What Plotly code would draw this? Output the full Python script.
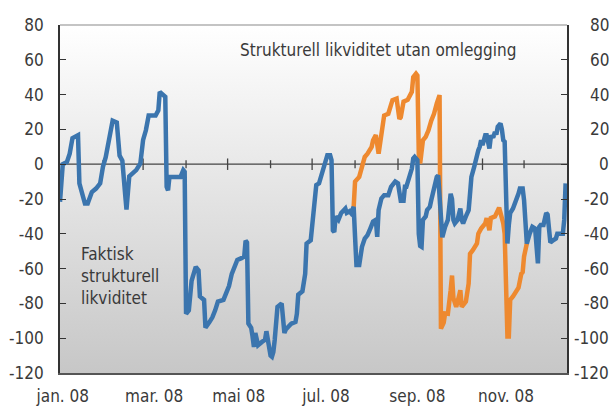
import pandas as pd
import plotly.graph_objects as go

# Days since 1 Jan 2008 and structural liquidity (NOK bn)
blue_days = [0, 2, 5, 7, 9, 13, 14, 18, 20, 23, 26, 29, 31, 33, 38, 41, 43, 45, 47, 48,
             50, 53, 55, 58, 59, 60, 62, 64, 69, 71, 72, 74, 76, 77, 78, 79, 87, 89, 90, 91,
             93, 95, 98, 100, 101, 104, 105, 108, 110, 112, 114, 118, 120, 122, 124, 126, 128, 131, 133, 134,
             135, 136, 138, 139, 140, 141, 143, 146, 148, 149, 152, 153, 154, 155, 157, 160, 162, 163, 167, 170,
             171, 172, 175, 177, 178, 181, 183, 184, 185, 187, 189, 190, 192, 193, 195, 196, 197, 198, 199, 201,
             203, 206, 207, 209, 210, 212, 213, 214, 216, 218, 220, 222, 224, 226, 228, 229, 230, 232, 234, 237,
             239, 242, 244, 246, 248, 249, 250, 252, 254, 255, 256, 258, 259, 260, 261, 262, 264, 265, 267, 268,
             270, 272, 273, 275, 276, 278, 280, 282, 283, 284, 285, 287, 289, 290, 291, 293, 295, 296, 297, 299,
             300, 302, 303, 304, 305, 307, 308, 309, 310, 311, 313, 314, 315, 316, 318, 319, 320, 321, 322, 323,
             324, 325, 327, 329, 331, 332, 334, 335, 336, 337, 339, 340, 341, 343, 345, 346, 347, 349, 351, 352,
             354, 356, 358, 359, 361, 363, 364, 365]
blue_vals = [-21.6, 0, 1.3, 6, 15, 16.7, -11, -22.6, -22.6, -16, -14, -11, -1.5, 4, 25, 24, 5, 2, -17, -26,
             -7, -4.4, -3.4, 0.4, 6, 14, 19.5, 28, 28, 31, 41.6, 40, 38.7, -13, -15, -7.3, -7.3, -3.4, -4.4, -86,
             -84, -67, -59, -61, -76, -78, -94, -90.6, -88, -84, -79, -78, -74, -70, -63, -58, -55, -54, -53, -44,
             -45, -91.6, -94, -99, -105, -97, -104, -102, -101, -96, -110, -110.7, -108, -101, -82, -80, -97, -95, -91.6, -90.6,
             -86, -75, -73, -63, -45.6, -43.7, -28, -22, -12, -11, -5.4, -2.5, 3.3, 5.2, 5.2, 2.3, -38, -39, -30, -32,
             -28, -25.5, -28, -27, -28, -24.5, -41.8, -58, -58, -47.5, -42.7, -40.8, -37, -33, -32, -41.8, -26.4, -19.7, -17.8, -17.8,
             -13, -10, -11, -21, -21, -13, -13, -8.2, -2.5, 3.3, 4.2, 2.3, -40, -47, -47.5, -32, -30, -26.4, -24.5, -20.7,
             -13, -7.3, -6.5, -38, -42, -36, -32, -17, -20, -32, -34, -32, -25.5, -32, -34, -30, -26.4, -17, -7.3, -1.5,
             2.3, 8, 10, 13.8, 11, 16.7, 16.7, 12.8, 9, 15.7, 16, 18.6, 17, 21.5, 23.4, 20, 13.8, 13, -20.7, -45.6,
             -35, -28, -25.5, -21.6, -16.9, -14, -14, -20.7, -37, -45.6, -40, -37, -36, -37, -57, -36, -35, -35, -28, -29,
             -45, -43.7, -42.7, -40, -40, -40, -32, -11]

orange_days = [212, 213, 216, 218, 220, 222, 225, 226, 228, 230, 232, 234, 237, 238, 240, 243, 245, 246, 248, 251,
               254, 255, 257, 258, 259, 260, 261, 262, 264, 266, 268, 270, 272, 274, 275, 277, 278, 280, 282, 283,
               284, 286, 288, 289, 290, 292, 293, 295, 296, 298, 301, 302, 304, 307, 308, 310, 311, 314, 315, 317,
               319, 320, 321, 322, 323, 324, 325, 327, 329, 331, 333, 334, 335, 337]
orange_vals = [-24.5, -10, -7.3, -1.5, 4.2, 6, 10, 13.8, 16.7, 6, 19.5, 28, 29, 32, 36.8, 37.7, 26, 27, 36, 37,
               41.6, 50, 52, 51, 6, 0.4, 6, 13.8, 15.7, 19.5, 25, 29, 35, 39.7, -94.5, -91, -85.8, -86, -72.4, -64,
               -77, -82, -76, -72.4, -82, -80, -79, -68.6, -51.5, -49.4, -45.6, -40, -37, -34, -31, -38, -31, -30, -28, -25,
               -31, -34, -40, -80, -99, -99, -78, -76, -74, -71, -63, -62, -53, -45.6]

month_labels = ["jan. 08", "mar. 08", "mai 08", "jul. 08", "sep. 08", "nov. 08"]
month_label_days = [2, 68, 129, 192, 258, 322]

y_ticks = list(range(-120, 81, 20))
y_tick_text = [str(v) for v in y_ticks]  # plain hyphen-minus

base = pd.Timestamp("2008-01-01")
x_start, x_end = base, pd.Timestamp("2009-01-01")
y_min, y_max = -120, 80


def to_dates(days):
    return list(base + pd.to_timedelta(days, unit="D"))


BLUE = "#3b75ae"
ORANGE = "#ee892f"
FONT = "Liberation Sans Narrow, DejaVu Sans Condensed, Arial Narrow, sans-serif"
TEXT = "#3a3a3a"
AXIS = "#333333"

fig = go.Figure()

# Grey-to-white vertical gradient behind the plot area
fig.add_trace(go.Scatter(
    x=[x_start, x_end, x_end, x_start, x_start],
    y=[y_min, y_min, y_max, y_max, y_min],
    mode="lines", line=dict(width=0), fill="toself",
    fillgradient=dict(type="vertical", colorscale=[[0, "#c7c7c7"], [1, "#ffffff"]]),
    hoverinfo="skip", showlegend=False,
))

# Zero line with month ticks crossing it (longer ticks on labelled months)
zx, zy = [x_start, x_end, None], [0, 0, None]
for m in pd.date_range("2008-02-01", "2008-12-01", freq="MS"):
    h = 3.3 if m.month % 2 == 1 else 2.3
    zx += [m, m, None]
    zy += [-h, h, None]
fig.add_trace(go.Scatter(x=zx, y=zy, mode="lines", line=dict(color="#444444", width=1.3),
                         hoverinfo="skip", showlegend=False))

fig.add_trace(go.Scatter(
    x=to_dates(orange_days), y=orange_vals, mode="lines",
    line=dict(color=ORANGE, width=4.5), showlegend=False,
))
fig.add_trace(go.Scatter(
    x=to_dates(blue_days), y=blue_vals, mode="lines",
    line=dict(color=BLUE, width=4.5), showlegend=False,
))
# invisible trace to bring up the right-hand axis
fig.add_trace(go.Scatter(x=[x_start], y=[0], yaxis="y2", mode="markers",
                         marker=dict(opacity=0), hoverinfo="skip", showlegend=False))

shapes = [dict(type="line", xref="paper", yref="paper", x0=0, x1=1, y0=1, y1=1,
               line=dict(color="#8a8a8a", width=1.2))]

yaxis_common = dict(
    range=[y_min, y_max], tickvals=y_ticks, ticktext=y_tick_text,
    ticks="inside", ticklen=6, tickcolor=AXIS, tickwidth=1.2,
    showgrid=False, zeroline=False, showline=True, linecolor=AXIS, linewidth=1.6,
    tickfont=dict(family=FONT, size=17, color=TEXT), ticklabelstandoff=11,
    automargin=False,
)

annotations = [
    dict(x=0.351, y=0.928, xref="paper", yref="paper", xanchor="left", yanchor="middle",
         text="Strukturell likviditet utan omlegging", showarrow=False,
         font=dict(family=FONT, size=17, color=TEXT)),
    dict(x=0.0375, y=0.28, xref="paper", yref="paper", xanchor="left", yanchor="middle",
         text="Faktisk<br>strukturell<br>likviditet", showarrow=False, align="left",
         font=dict(family=FONT, size=17, color=TEXT)),
]
# right-hand tick labels, right-aligned against the page edge
for v, t in zip(y_ticks, y_tick_text):
    annotations.append(dict(x=1.086, y=v, xref="paper", yref="y", xanchor="right",
                            yanchor="middle", text=t, showarrow=False,
                            font=dict(family=FONT, size=17, color=TEXT)))

fig.update_layout(
    width=609, height=407,
    margin=dict(l=60, r=42, t=25, b=34),
    paper_bgcolor="white", plot_bgcolor="rgba(0,0,0,0)",
    xaxis=dict(
        range=[x_start, x_end], type="date",
        tickvals=to_dates(month_label_days), ticktext=month_labels,
        ticks="", showgrid=False, zeroline=False, showline=True, linecolor="#555555", linewidth=1.5,
        tickfont=dict(family=FONT, size=17, color=TEXT), ticklabelstandoff=7, automargin=False,
    ),
    yaxis=yaxis_common,
    yaxis2=dict(**yaxis_common, overlaying="y", side="right", showticklabels=False),
    shapes=shapes,
    annotations=annotations,
)

fig.write_html("out.html")
